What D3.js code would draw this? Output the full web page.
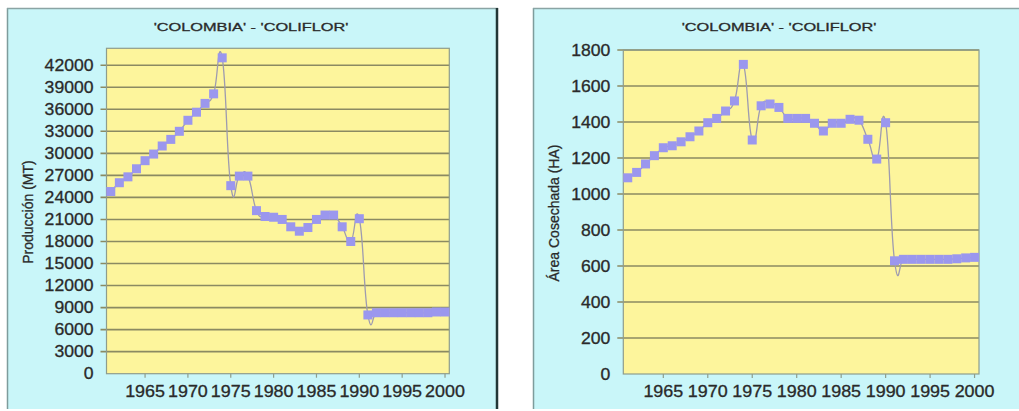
<!DOCTYPE html>
<html><head><meta charset="utf-8">
<script src="https://cdn.jsdelivr.net/npm/d3@7"></script>
<style>
body{margin:0;background:#fff;}
svg{display:block;}
text{font-family:"Liberation Sans",Arial,sans-serif;fill:#2a2a2a;stroke:#2a2a2a;stroke-width:0.3px;}
</style>
</head><body>
<svg id="c" width="1019" height="411"></svg>
<script>
const years = [1961,1962,1963,1964,1965,1966,1967,1968,1969,1970,
               1971,1972,1973,1974,1975,1976,1977,1978,1979,1980,
               1981,1982,1983,1984,1985,1986,1987,1988,1989,1990,
               1991,1992,1993,1994,1995,1996,1997,1998,1999,2000];
const produccion = [24800,26000,26800,27900,29000,29900,31000,31900,33000,34500,
                    35600,36800,38100,43000,25600,26900,26900,22200,21400,21300,
                    21000,20000,19400,19900,21000,21600,21600,20000,18000,21100,
                    8000,8300,8300,8300,8300,8300,8300,8300,8400,8400];
const area = [1090,1120,1167,1213,1257,1268,1290,1318,1350,1396,
              1420,1461,1517,1720,1300,1490,1500,1481,1420,1420,
              1420,1393,1350,1393,1393,1415,1410,1304,1194,1396,
              629,637,637,637,637,637,637,640,645,648];
const xTickYears = [1965,1970,1975,1980,1985,1990,1995,2000];
const yTicksProd = [0,3000,6000,9000,12000,15000,18000,21000,24000,27000,30000,33000,36000,39000,42000];
const yTicksArea = [0,200,400,600,800,1000,1200,1400,1600,1800];
const titleText = "'COLOMBIA' - 'COLIFLOR'";
const yLabelProd = "Producción (MT)";
const yLabelArea = "Área Cosechada (HA)";

const panels = [
  {frame:{x:7,y:8,w:491,h:401}, plot:{l:106.5,t:48.3,r:449.3,b:373.7}, yMax:44300,
   ticks:yTicksProd, values:produccion, label:yLabelProd, labelX:33, titleX:251, shadow:true},
  {frame:{x:533,y:8,w:490,h:401}, plot:{l:623.3,t:50,r:979,b:374}, yMax:1800,
   ticks:yTicksArea, values:area, label:yLabelArea, labelX:559, titleX:779, shadow:false}
];

const svg = d3.select("#c");
const cyan = "#c9f6f9", yellow = "#fdf59c", grid = "#8b8a62", border = "#8e9d8c";
const markerFill = "#9b97ee", lineCol = "#9e9bb0";

panels.forEach(p => {
  const g = svg.append("g");
  const f = p.frame;
  g.append("rect").attr("x", f.x).attr("y", f.y).attr("width", f.w).attr("height", f.h).attr("fill", cyan);
  g.append("line").attr("x1", f.x + 0.5).attr("x2", f.x + 0.5).attr("y1", f.y).attr("y2", f.y + f.h)
    .attr("stroke", "#7e9c9c").attr("stroke-width", 1.5);
  g.append("line").attr("x1", f.x).attr("x2", f.x + f.w).attr("y1", f.y + 0.5).attr("y2", f.y + 0.5)
    .attr("stroke", "#8aa4a4").attr("stroke-width", 1.5);
  if (p.shadow) {
    g.append("line").attr("x1", f.x + f.w - 1).attr("x2", f.x + f.w - 1).attr("y1", f.y).attr("y2", f.y + f.h)
      .attr("stroke", "#223636").attr("stroke-width", 2.5);
  }

  const P = p.plot;
  const x = d3.scaleBand().domain(years).range([P.l, P.r]).padding(0);
  const cx = d => x(d) + x.bandwidth() / 2;
  const y = d3.scaleLinear().domain([0, p.yMax]).range([P.b, P.t]);

  g.append("rect").attr("x", P.l).attr("y", P.t).attr("width", P.r - P.l).attr("height", P.b - P.t)
    .attr("fill", yellow);

  // gridlines + y tick marks
  g.selectAll(".gl").data(p.ticks.filter(t => t > 0)).join("line")
    .attr("x1", P.l - 6).attr("x2", P.r).attr("y1", d => y(d)).attr("y2", d => y(d))
    .attr("stroke", grid).attr("stroke-width", 1.6);

  g.append("rect").attr("x", P.l).attr("y", P.t).attr("width", P.r - P.l).attr("height", P.b - P.t)
    .attr("fill", "none").attr("stroke", border).attr("stroke-width", 1.2);

  // y tick labels
  g.selectAll(".yl").data(p.ticks).join("text")
    .attr("transform", d => `translate(${P.l - 13},${y(d)}) scale(1.1,1)`)
    .attr("dy", "0.36em").attr("text-anchor", "end").style("font-size", "16px")
    .text(d => d);

  // x ticks
  g.selectAll(".xt").data(xTickYears).join("line")
    .attr("x1", d => cx(d)).attr("x2", d => cx(d)).attr("y1", P.b).attr("y2", P.b + 4)
    .attr("stroke", border).attr("stroke-width", 1.2);
  g.selectAll(".xl").data(xTickYears).join("text")
    .attr("transform", d => `translate(${cx(d)},397) scale(1.12,1)`)
    .attr("text-anchor", "middle").style("font-size", "16px")
    .text(d => d);

  // title
  g.append("text").attr("transform", `translate(${p.titleX},31) scale(1.42,1)`)
    .attr("text-anchor", "middle").style("font-size", "11.5px").text(titleText);

  // y axis label
  g.append("text").attr("transform", `translate(${p.labelX},${(P.t + P.b) / 2 + 1}) rotate(-90)`)
    .attr("text-anchor", "middle").style("font-size", "14px").text(p.label);

  // series line (smoothed, Excel-like)
  const line = d3.line().x((d, i) => cx(years[i])).y(d => y(d)).curve(d3.curveCardinal.tension(-0.5));
  g.append("path").attr("d", line(p.values)).attr("fill", "none")
    .attr("stroke", lineCol).attr("stroke-width", 1.3);

  // markers
  const ms = 9;
  g.selectAll(".mk").data(p.values).join("rect")
    .attr("x", (d, i) => cx(years[i]) - ms / 2).attr("y", d => y(d) - ms / 2)
    .attr("width", ms).attr("height", ms).attr("fill", markerFill);
});
</script>
</body></html>
